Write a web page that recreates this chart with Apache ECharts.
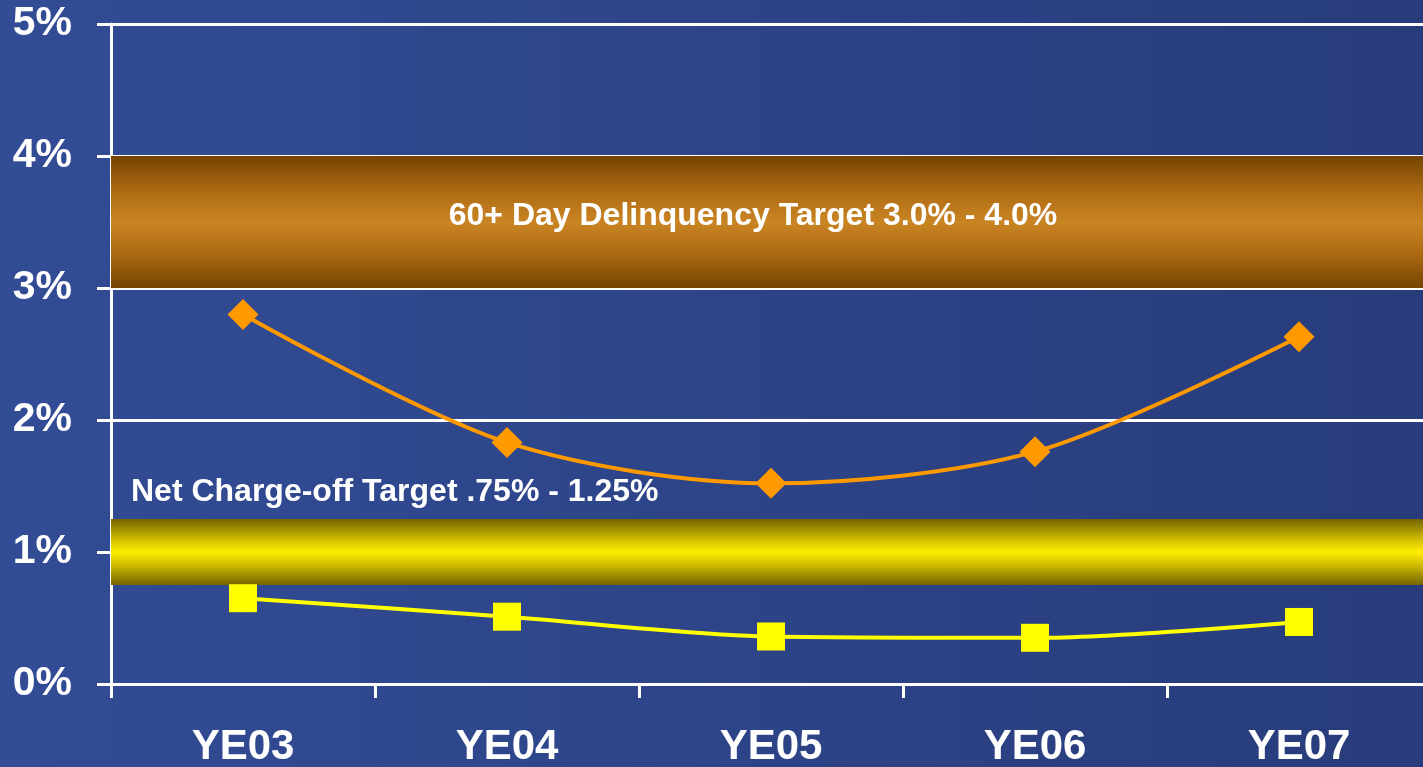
<!DOCTYPE html>
<html>
<head>
<meta charset="utf-8">
<script src="https://cdn.jsdelivr.net/npm/echarts@6/dist/echarts.min.js"></script>
<style>
  html, body { margin: 0; padding: 0; }
  #chart { width: 1423px; height: 767px; }
</style>
</head>
<body>
<div id="chart"></div>
<script>
// data
var categories = ['YE03', 'YE04', 'YE05', 'YE06', 'YE07'];
var delinquency = [2.80, 1.83, 1.52, 1.76, 2.63];   // 60+ day delinquency, %
var chargeOff = [0.65, 0.51, 0.36, 0.35, 0.47];     // net charge-off, %
var delinquencyTarget = [3.0, 4.0];
var chargeOffTarget = [0.75, 1.25];
var yTicks = [0, 1, 2, 3, 4, 5];

var font = '"Liberation Sans", Arial, sans-serif';
var chart = echarts.init(document.getElementById('chart'));

function band(c0, c1, c2) {
    return new echarts.graphic.LinearGradient(0, 0, 0, 1, [
        { offset: 0, color: c0 },
        { offset: 0.28, color: c1 },
        { offset: 0.5, color: c2 },
        { offset: 0.72, color: c1 },
        { offset: 1, color: c0 }
    ]);
}

var option = {
    animation: false,
    backgroundColor: new echarts.graphic.LinearGradient(0, 0, 1, 0, [
        { offset: 0, color: '#324c95' },
        { offset: 1, color: '#283c7b' }
    ]),
    grid: {
        left: 111, top: 24, right: -8, bottom: 83,
        containLabel: false,
        outerBoundsMode: 'none'
    },
    xAxis: {
        type: 'category',
        data: categories,
        boundaryGap: true,
        axisLine: { show: true, lineStyle: { color: '#ffffff', width: 3 } },
        axisTick: { show: true, length: 14, lineStyle: { color: '#ffffff', width: 3 } },
        axisLabel: {
            color: '#ffffff', fontSize: 42, fontWeight: 'bold', fontFamily: font, margin: 42
        },
        splitLine: { show: false }
    },
    yAxis: {
        type: 'value',
        min: yTicks[0],
        max: yTicks[yTicks.length - 1],
        interval: 1,
        axisLine: { show: true, lineStyle: { color: '#ffffff', width: 3 } },
        axisTick: { show: true, length: 14, lineStyle: { color: '#ffffff', width: 3 } },
        axisLabel: {
            color: '#ffffff', fontSize: 41, fontWeight: 'bold', fontFamily: font, margin: 39,
            padding: [7, 0, 0, 0],
            formatter: '{value}%'
        },
        splitLine: { show: true, lineStyle: { color: '#ffffff', width: 3 } }
    },
    series: [
        {
            name: '60+ Day Delinquency',
            type: 'line',
            data: delinquency,
            smooth: 0.3,
            symbol: 'diamond',
            symbolSize: 31,
            itemStyle: { color: '#ff9900' },
            lineStyle: { color: '#ff9900', width: 4 },
            z: 5,
            markArea: {
                silent: true,
                itemStyle: { color: band('#744400', '#b06c14', '#c98423') },
                label: {
                    show: true,
                    position: 'inside',
                    offset: [-18, -6],
                    color: '#ffffff', fontSize: 32, fontWeight: 'bold', fontFamily: font
                },
                data: [[
                    { name: '60+ Day Delinquency Target 3.0% - 4.0%', yAxis: delinquencyTarget[0] },
                    { yAxis: delinquencyTarget[1] }
                ]]
            }
        },
        {
            name: 'Net Charge-off',
            type: 'line',
            data: chargeOff,
            smooth: 0.3,
            symbol: 'rect',
            symbolSize: 28,
            itemStyle: { color: '#ffff00' },
            lineStyle: { color: '#ffff00', width: 4 },
            z: 5,
            markArea: {
                silent: true,
                itemStyle: { color: band('#736400', '#c9b500', '#ffee00') },
                label: {
                    show: true,
                    position: [20, -43],
                    color: '#ffffff', fontSize: 32, fontWeight: 'bold', fontFamily: font
                },
                data: [[
                    { name: 'Net Charge-off Target .75% - 1.25%', yAxis: chargeOffTarget[0] },
                    { yAxis: chargeOffTarget[1] }
                ]]
            }
        }
    ]
};

chart.setOption(option);
window.addEventListener('resize', function () { chart.resize(); });
</script>
</body>
</html>
